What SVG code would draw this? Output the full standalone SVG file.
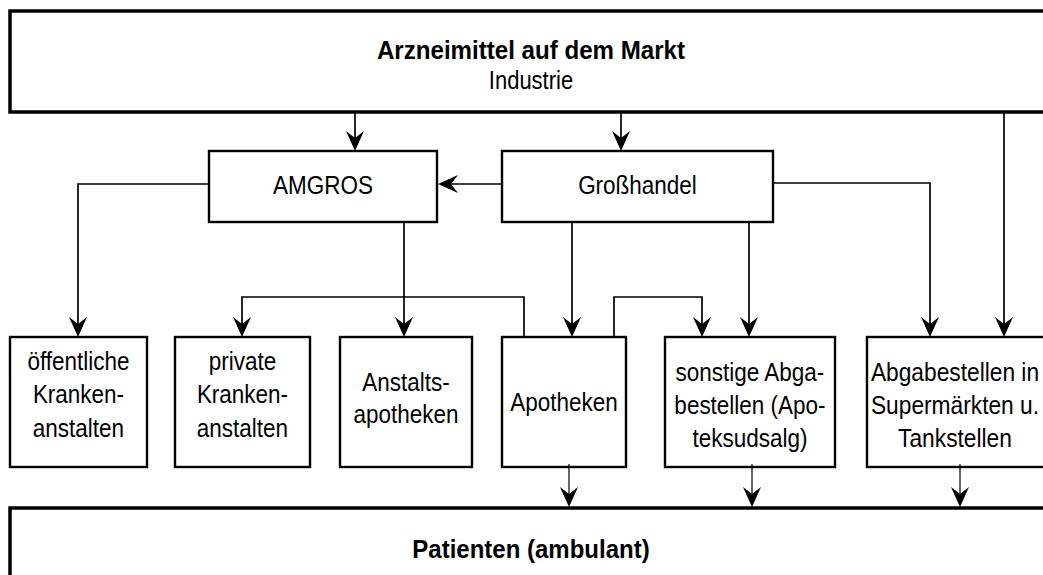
<svg xmlns="http://www.w3.org/2000/svg" width="1043" height="575" viewBox="0 0 1043 575">
<style>
  .box { fill: #fff; stroke: #000; stroke-width: 2.4; }
  .big { fill: #fff; stroke: #000; stroke-width: 3.5; }
  .t { font-family: "Liberation Sans", Arial, sans-serif; font-size: 25px; fill: #000; text-anchor: middle; }
  .b { font-weight: bold; }
  .c { fill: none; stroke: #000; stroke-width: 1.7; }
  .c2 { fill: none; stroke: #000; stroke-width: 1.2; }
</style>
<defs>
  <marker id="arr" markerUnits="userSpaceOnUse" viewBox="-24 -12 26 24" markerWidth="26" markerHeight="24" refX="-4" refY="0" orient="auto" overflow="visible">
    <path d="M0,0 L-20,-9 L-13,0 L-20,9 Z" fill="#000"/>
  </marker>
</defs>
<rect width="1043" height="575" fill="#fff"/>

<g id="industrie">
  <rect class="big" x="10" y="11" width="1045" height="101"/>
  <text class="t b" x="531" y="59" font-size="28" transform="matrix(0.965,0,0,1,18.585,0)">Arzneimittel auf dem Markt</text>
  <text class="t" x="531" y="89" font-size="23" transform="matrix(0.88,0,0,1,63.72,0)">Industrie</text>
</g>
<g id="amgros">
  <rect class="box" x="209" y="151" width="228" height="71"/>
  <g transform="matrix(0.9,0,0,1,32.3,0)"><text class="t" x="323" y="194">AMGROS</text></g>
</g>
<g id="grosshandel">
  <rect class="box" x="502" y="151" width="271" height="71"/>
  <g transform="matrix(0.9,0,0,1,63.75,0)"><text class="t" x="637.5" y="194">Großhandel</text></g>
</g>
<g id="oeffentliche">
  <rect class="box" x="10" y="337" width="137" height="130"/>
  <g transform="matrix(0.9,0,0,1,7.85,0)">
    <text class="t" x="78.5" y="370">öffentliche</text>
    <text class="t" x="78.5" y="403">Kranken-</text>
    <text class="t" x="78.5" y="437">anstalten</text>
  </g>
</g>
<g id="private">
  <rect class="box" x="175" y="337" width="135" height="130"/>
  <g transform="matrix(0.9,0,0,1,24.25,0)">
    <text class="t" x="242.5" y="370">private</text>
    <text class="t" x="242.5" y="403">Kranken-</text>
    <text class="t" x="242.5" y="437">anstalten</text>
  </g>
</g>
<g id="anstaltsapotheken">
  <rect class="box" x="340" y="337" width="132" height="130"/>
  <g transform="matrix(0.9,0,0,1,40.6,0)">
    <text class="t" x="406" y="391">Anstalts-</text>
    <text class="t" x="406" y="423">apotheken</text>
  </g>
</g>
<g id="apotheken">
  <rect class="box" x="502" y="337" width="124" height="130"/>
  <g transform="matrix(0.9,0,0,1,56.4,0)"><text class="t" x="564" y="411">Apotheken</text></g>
</g>
<g id="sonstige">
  <rect class="box" x="665" y="337" width="170" height="130"/>
  <g transform="matrix(0.9,0,0,1,75,0)">
    <text class="t" x="750" y="381">sonstige Abga-</text>
    <text class="t" x="750" y="414">bestellen (Apo-</text>
    <text class="t" x="750" y="447">teksudsalg)</text>
  </g>
</g>
<g id="supermaerkte">
  <rect class="box" x="867" y="337" width="190" height="130"/>
  <g transform="matrix(0.91,0,0,1,85.95,0)">
    <text class="t" x="955" y="381">Abgabestellen in</text>
    <text class="t" x="955" y="414">Supermärkten u.</text>
    <text class="t" x="955" y="447">Tankstellen</text>
  </g>
</g>
<g id="patienten">
  <rect class="big" x="10" y="508" width="1045" height="80" stroke-width="4"/>
  <text class="t b" x="531" y="558" font-size="26" transform="matrix(0.96,0,0,1,21.24,0)">Patienten (ambulant)</text>
</g>

<g id="connectors">
  <path class="c" d="M355,113 V147" marker-end="url(#arr)"/>
  <path class="c" d="M621,113 V147" marker-end="url(#arr)"/>
  <path class="c" d="M1004,113 V333" marker-end="url(#arr)"/>
  <path class="c" d="M502,184 H442" marker-end="url(#arr)"/>
  <path class="c" d="M209,184 H78 V333" marker-end="url(#arr)"/>
  <path class="c" d="M404,223 V333" marker-end="url(#arr)"/>
  <path class="c" d="M524,337 V297 H242 V333" marker-end="url(#arr)"/>
  <path class="c" d="M572,223 V333" marker-end="url(#arr)"/>
  <path class="c" d="M614,337 V297 H702 V333" marker-end="url(#arr)"/>
  <path class="c" d="M749,223 V333" marker-end="url(#arr)"/>
  <path class="c" d="M773,183 H930 V333" marker-end="url(#arr)"/>
  <path class="c2" d="M569,464 V503" marker-end="url(#arr)"/>
  <path class="c2" d="M752,464 V503" marker-end="url(#arr)"/>
  <path class="c2" d="M960,464 V503" marker-end="url(#arr)"/>
</g>
</svg>
